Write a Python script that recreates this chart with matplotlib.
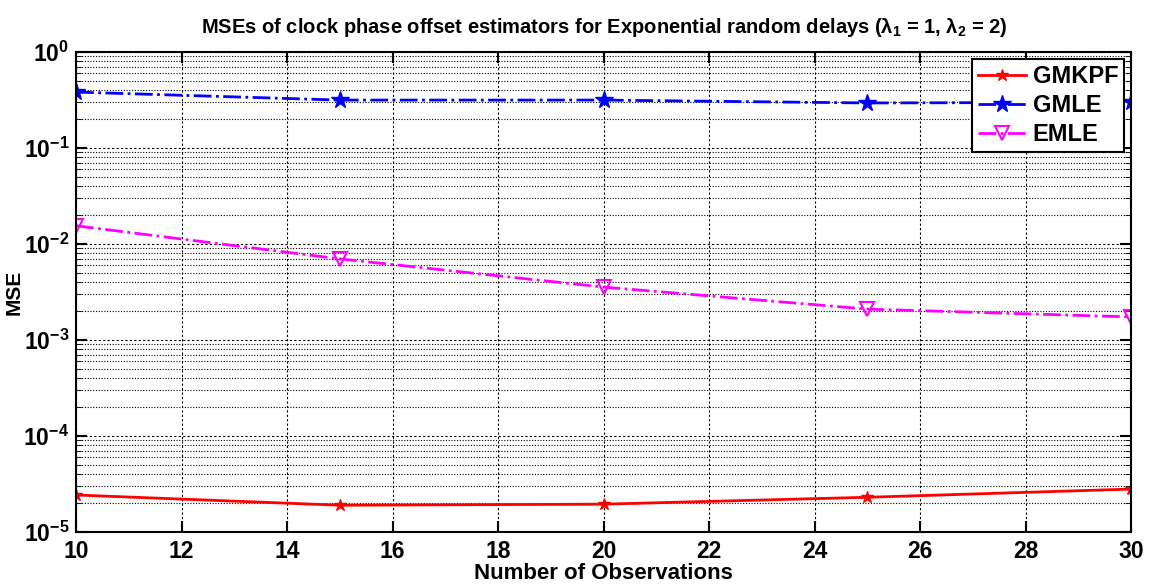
import numpy as np
from matplotlib import pyplot as plt
from matplotlib.ticker import LogLocator, NullFormatter

# data
n_obs = [10, 15, 20, 25, 30]
mse_gmkpf = [2.43e-5, 1.9e-5, 1.95e-5, 2.3e-5, 2.8e-5]
mse_gmle = [0.383, 0.316, 0.316, 0.295, 0.30]
mse_emle = [0.0155, 0.0070, 0.00356, 0.0021, 0.00174]
xticks = [10, 12, 14, 16, 18, 20, 22, 24, 26, 28, 30]

plt.rcParams['font.family'] = ['Liberation Sans', 'DejaVu Sans']
plt.rcParams['font.weight'] = 'bold'
plt.rcParams['mathtext.fontset'] = 'custom'
plt.rcParams['mathtext.rm'] = 'Liberation Sans:bold'
plt.rcParams['mathtext.it'] = 'Liberation Sans:bold'
plt.rcParams['mathtext.bf'] = 'Liberation Sans:bold'

fig = plt.figure(figsize=(11.52, 5.85), dpi=100)
ax = fig.add_axes([0.066, 0.0906, 0.916, 0.8204])

ax.semilogy(n_obs, mse_gmkpf, '-', color='red', lw=2, marker='*', ms=9, label='GMKPF')
ax.semilogy(n_obs, mse_gmle, '-.', color='blue', lw=2, marker='*', ms=13, label='GMLE')
ax.semilogy(n_obs, mse_emle, '-.', color='magenta', lw=2, marker='v', ms=10,
            mfc='none', mew=1.5, label='EMLE')

ax.set_xlim(10, 30)
ax.set_ylim(1e-5, 1)
ax.set_xticks(xticks)
ax.yaxis.set_major_locator(LogLocator(base=10, numticks=10))
ax.yaxis.set_minor_locator(LogLocator(base=10, subs=np.arange(2, 10), numticks=10))
ax.yaxis.set_minor_formatter(NullFormatter())

ax.grid(True, which='major', axis='both', color='black', ls=(0, (2, 2)), lw=0.8)
ax.grid(True, which='minor', axis='y', color='black', ls=(0, (1, 1.5)), lw=0.8)
ax.set_axisbelow(True)

ax.tick_params(which='both', direction='in', top=True, right=True, labelsize=16.5)
ax.tick_params(axis='x', pad=6)
ax.tick_params(axis='y', pad=5)
ax.tick_params(which='major', length=8, width=1.5)
ax.tick_params(which='minor', length=4)
for s in ax.spines.values():
    s.set_linewidth(1.5)

ax.set_xlabel('Number of Observations', fontsize=16, fontweight='bold', labelpad=0)
ax.set_ylabel('MSE', fontsize=15, fontweight='bold', labelpad=0)
ax.set_title(r'MSEs of clock phase offset estimators for Exponential random delays ($\lambda_1$ = 1, $\lambda_2$ = 2)',
             fontsize=14.5, fontweight='bold', pad=14)

leg = ax.legend(loc='upper right', fontsize=17, fancybox=False, edgecolor='black',
                framealpha=1, borderaxespad=0.3, handlelength=2.0, labelspacing=0.25,
                borderpad=0.25, handletextpad=0.3)
leg.get_frame().set_linewidth(1.5)

fig.savefig('out.png', dpi=100)
